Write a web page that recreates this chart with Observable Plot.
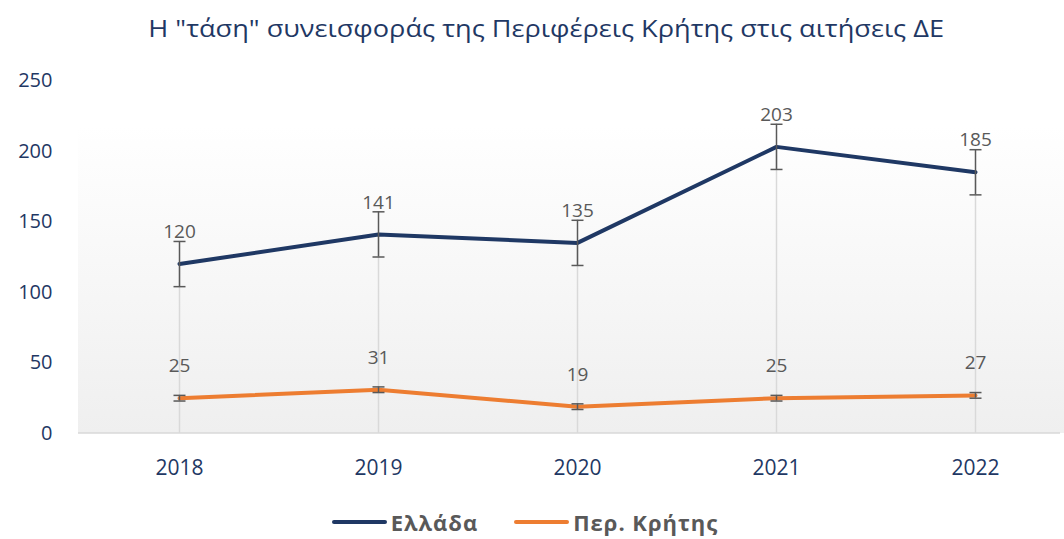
<!DOCTYPE html>
<html>
<head>
<meta charset="utf-8">
<script src="https://cdn.jsdelivr.net/npm/d3@7"></script>
<script src="https://cdn.jsdelivr.net/npm/@observablehq/plot@0.6"></script>
<style>
  html, body { margin: 0; padding: 0; background: #fff; }
  body { width: 1064px; height: 539px; overflow: hidden; font-family: "Open Sans", sans-serif; }
  #title { height: 56px; line-height: 56px; text-align: center; color: #1f3864; font-size: 23px; padding-left: 29px; box-sizing: border-box; white-space: nowrap; }
  #title span { display: inline-block; transform: scaleX(1.18); transform-origin: center; }
  #legend { height: 43px; display: flex; justify-content: center; align-items: center; gap: 36px; font-weight: bold; font-size: 22px; letter-spacing: 1px; color: #595959; padding-right: 14px; padding-top: 8px; box-sizing: border-box; }
  .item { display: flex; align-items: center; gap: 4px; }
  .sw { width: 55px; height: 4px; border-radius: 2px; }
</style>
</head>
<body>
<div id="title"><span>Η "τάση" συνεισφοράς της Περιφέρεις Κρήτης στις αιτήσεις ΔΕ</span></div>
<div id="chart"></div>
<div id="legend"></div>
<script>
const years = ["2018", "2019", "2020", "2021", "2022"];
const greece = [120, 141, 135, 203, 185];
const crete = [25, 31, 19, 25, 27];
const greeceErr = [16, 16, 16, 16, 16];
const creteErr = [2, 2, 2, 2, 2];
const yTicks = [0, 50, 100, 150, 200, 250];
const seriesNames = ["Ελλάδα", "Περ. Κρήτης"];
const colors = ["#1f3864", "#ed7d31"];

const data = [];
years.forEach((yr, i) => {
  data.push({year: yr, series: seriesNames[0], value: greece[i], err: greeceErr[i]});
  data.push({year: yr, series: seriesNames[1], value: crete[i], err: creteErr[i]});
});
const gData = data.filter(d => d.series === seriesNames[0]);

const capSymbol = { draw(ctx) { ctx.moveTo(-6, 0); ctx.lineTo(6, 0); } };

const background = (index, scales, values, dims) => {
  const ns = "http://www.w3.org/2000/svg";
  const g = document.createElementNS(ns, "g");
  const defs = document.createElementNS(ns, "defs");
  defs.innerHTML = `<linearGradient id="bg" x1="0" y1="0" x2="0" y2="1"><stop offset="0" stop-color="#ffffff"/><stop offset="1" stop-color="#efefef"/></linearGradient>`;
  g.appendChild(defs);
  const r = document.createElementNS(ns, "rect");
  const top = scales.y(218), bot = scales.y(0);
  r.setAttribute("x", dims.marginLeft);
  r.setAttribute("y", top);
  r.setAttribute("width", dims.width - dims.marginLeft);
  r.setAttribute("height", bot - top);
  r.setAttribute("fill", "url(#bg)");
  g.appendChild(r);
  const l = document.createElementNS(ns, "line");
  l.setAttribute("x1", dims.marginLeft); l.setAttribute("x2", dims.width - 4);
  l.setAttribute("y1", bot); l.setAttribute("y2", bot);
  l.setAttribute("stroke", "#d9d9d9"); l.setAttribute("stroke-width", 1.5);
  g.appendChild(l);
  return g;
};

const chart = Plot.plot({
  width: 1064,
  height: 440,
  marginLeft: 78,
  marginRight: 0,
  marginTop: 0,
  marginBottom: 63,
  style: { fontFamily: "Open Sans, sans-serif", background: "transparent", overflow: "visible" },
  x: { type: "point", domain: years, range: [178, 975], padding: 0, label: null, axis: null },
  y: { domain: [0, 250], range: [377, 24], label: null, axis: null },
  color: { domain: seriesNames, range: colors },
  marks: [
    background,
    Plot.ruleX(gData, { x: "year", y1: 0, y2: "value", stroke: "#d9d9d9", strokeWidth: 1.5 }),
    Plot.axisY({ ticks: yTicks, tickSize: 0, tickPadding: 26, fontSize: 20, fill: "#1f3864", tickFormat: d => d, ariaLabel: "yax" }),
    Plot.axisX({ tickSize: 0, tickPadding: 27, fontSize: 21, fill: "#1f3864", ariaLabel: "xax" }),
    Plot.line(data, { x: "year", y: "value", z: "series", stroke: "series", strokeWidth: 4, strokeLinecap: "round", strokeLinejoin: "round" }),
    Plot.ruleX(data, { x: "year", y1: d => d.value - d.err, y2: d => d.value + d.err, stroke: "#595959", strokeWidth: 1.5 }),
    Plot.dot(data, { x: "year", y: d => d.value - d.err, symbol: capSymbol, stroke: "#595959", strokeWidth: 1.5, fill: "none" }),
    Plot.dot(data, { x: "year", y: d => d.value + d.err, symbol: capSymbol, stroke: "#595959", strokeWidth: 1.5, fill: "none" }),
    Plot.text(data, { x: "year", y: "value", text: d => String(d.value), fill: "#595959", fontSize: 19, dy: -32, ariaLabel: "dlabels" })
  ]
});
document.getElementById("chart").appendChild(chart);

// widen glyphs to mimic the reference's wide type
function stretch(label, f) {
  chart.querySelectorAll(`g[aria-label="${label}"] text`).forEach(t => {
    const w = t.getComputedTextLength();
    t.setAttribute("textLength", w * f);
    t.setAttribute("lengthAdjust", "spacingAndGlyphs");
  });
}
stretch("yax", 1.13);
stretch("xax", 1.1);
stretch("dlabels", 1.2);

const legend = document.getElementById("legend");
seriesNames.forEach((name, i) => {
  const it = document.createElement("div");
  it.className = "item";
  const sw = document.createElement("div");
  sw.className = "sw";
  sw.style.background = colors[i];
  const tx = document.createElement("span");
  tx.textContent = name;
  it.appendChild(sw); it.appendChild(tx);
  legend.appendChild(it);
});
</script>
</body>
</html>
